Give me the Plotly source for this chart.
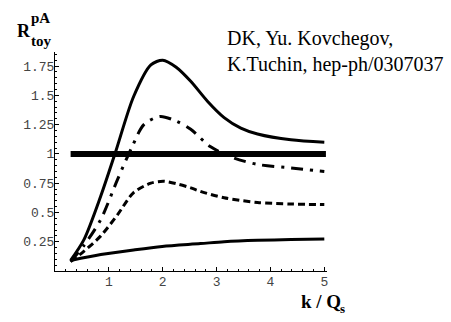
import plotly.graph_objects as go

# Curve samples: k/Qs versus R_toy^pA
x_top = [0.29, 0.54, 0.85, 1.12, 1.46, 1.78, 2.0, 2.25, 2.52, 2.83, 3.14, 3.45, 3.76, 4.38, 5.0]
y_top = [0.09, 0.27, 0.64, 1.01, 1.49, 1.76, 1.80, 1.74, 1.62, 1.45, 1.31, 1.22, 1.17, 1.12, 1.10]

x_dashdot = [0.29, 0.54, 0.85, 1.16, 1.43, 1.65, 1.95, 2.25, 2.52, 2.89, 3.32, 3.76, 4.38, 5.0]
y_dashdot = [0.08, 0.22, 0.44, 0.78, 1.06, 1.25, 1.32, 1.28, 1.21, 1.06, 0.965, 0.91, 0.88, 0.85]

x_dashed = [0.29, 0.54, 0.85, 1.16, 1.46, 1.78, 2.02, 2.3, 2.52, 2.70, 3.14, 3.76, 4.38, 5.0]
y_dashed = [0.08, 0.17, 0.30, 0.48, 0.67, 0.75, 0.766, 0.74, 0.71, 0.68, 0.625, 0.585, 0.572, 0.567]

x_bottom = [0.29, 0.85, 1.46, 1.99, 2.70, 3.14, 3.76, 4.38, 5.0]
y_bottom = [0.09, 0.14, 0.18, 0.21, 0.234, 0.250, 0.262, 0.268, 0.274]

x_unity = [0.29, 5.03]
y_unity = [1.0, 1.0]

x_ticks = [1, 2, 3, 4, 5]
x_tick_text = ["1", "2", "3", "4", "5"]
y_ticks = [0.25, 0.5, 0.75, 1.0, 1.25, 1.5, 1.75]
y_tick_text = ["0.25", "0.5", "0.75", "1", "1.25", "1.5", "1.75"]

fig = go.Figure()

fig.add_trace(go.Scatter(x=x_unity, y=y_unity, mode="lines",
                         line=dict(color="black", width=6)))
curve_line = dict(color="black", width=3, shape="spline", smoothing=0.8)
fig.add_trace(go.Scatter(x=x_top, y=y_top, mode="lines", line=curve_line))
fig.add_trace(go.Scatter(x=x_dashdot, y=y_dashdot, mode="lines",
                         line=dict(curve_line, dash="12px,7px,3px,7px")))
fig.add_trace(go.Scatter(x=x_dashed, y=y_dashed, mode="lines",
                         line=dict(curve_line, dash="7px,4px")))
fig.add_trace(go.Scatter(x=x_bottom, y=y_bottom, mode="lines", line=curve_line))

tick_font = dict(family="Liberation Mono", size=13, color="#444")

fig.update_xaxes(range=[0, 5.05], showline=True, linecolor="black", linewidth=1,
                 showgrid=False, zeroline=False,
                 tickvals=x_ticks, ticktext=x_tick_text, ticks="inside",
                 ticklen=4, tickcolor="black", tickfont=tick_font,
                 ticklabelstandoff=-2,
                 minor=dict(ticks="inside", ticklen=2, dtick=0.2, tick0=0,
                            tickcolor="black", showgrid=False))
fig.update_yaxes(range=[0, 1.87], showline=True, linecolor="black", linewidth=1,
                 showgrid=False, zeroline=False,
                 tickvals=y_ticks, ticktext=y_tick_text, ticks="inside",
                 ticklen=4, tickcolor="black", tickfont=tick_font,
                 ticklabelstandoff=-3,
                 minor=dict(ticks="inside", ticklen=2, dtick=0.05, tick0=0,
                            tickcolor="black", showgrid=False))

serif = "Liberation Serif"
annotations = [
    dict(text="<b>R</b>", x=15, y=322 - 43, font=dict(family=serif, size=18)),
    dict(text="<b>pA</b>", x=29, y=322 - 28, font=dict(family=serif, size=15)),
    dict(text="<b>toy</b>", x=29, y=322 - 51, font=dict(family=serif, size=15)),
    dict(text="DK, Yu. Kovchegov,", x=225, y=322 - 52, font=dict(family=serif, size=20)),
    dict(text="K.Tuchin, hep-ph/0307037", x=225, y=322 - 78, font=dict(family=serif, size=20)),
    dict(text="<b>k / Q</b>", x=299, y=322 - 314, font=dict(family=serif, size=19)),
    dict(text="<b>s</b>", x=338, y=322 - 318, font=dict(family=serif, size=13)),
]
for a in annotations:
    a["font"]["color"] = "black"
    fig.add_annotation(text=a["text"], x=a["x"], y=a["y"], xref="x domain", yref="y domain",
                       showarrow=False, xanchor="left", yanchor="bottom", font=a["font"])

# annotation positions above are in page pixels; convert to domain fractions
L, R, T, B = 55, 124, 52, 51
W, H = 451, 322
pw, ph = W - L - R, H - T - B
for ann in fig.layout.annotations:
    ann.x = (ann.x - L) / pw
    ann.y = (ann.y - B) / ph

fig.update_layout(width=W, height=H, margin=dict(l=L, r=R, t=T, b=B),
                  paper_bgcolor="white", plot_bgcolor="white", showlegend=False)

fig.write_html("out.html")
